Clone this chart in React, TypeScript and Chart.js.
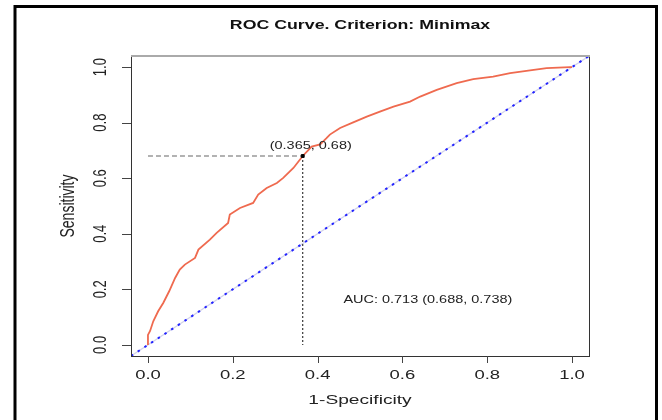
import React, { useEffect, useRef } from "react";
import { Chart, registerables } from "chart.js";

Chart.register(...registerables);

const TITLE = "ROC Curve. Criterion: Minimax";
const X_TITLE = "1-Specificity";
const Y_TITLE = "Sensitivity";
const TICKS = [0, 0.2, 0.4, 0.6, 0.8, 1.0];
const TICK_LABELS = ["0.0", "0.2", "0.4", "0.6", "0.8", "1.0"];
const AXIS_MIN = -0.04;
const AXIS_MAX = 1.04;

// ROC curve (1-specificity, sensitivity)
const FPR = [0, 0, 0.005, 0.0125, 0.024, 0.036, 0.05, 0.064, 0.075, 0.087, 0.111, 0.119, 0.146, 0.162, 0.189, 0.193, 0.217, 0.248, 0.26, 0.28, 0.304, 0.319, 0.343, 0.365, 0.386, 0.406, 0.421, 0.429, 0.453, 0.484, 0.516, 0.547, 0.579, 0.618, 0.642, 0.681, 0.728, 0.767, 0.814, 0.854, 0.901, 0.94, 0.995, 1.0];
const TPR = [0, 0.036, 0.05, 0.085, 0.121, 0.151, 0.193, 0.241, 0.271, 0.289, 0.313, 0.343, 0.379, 0.403, 0.439, 0.469, 0.493, 0.511, 0.541, 0.565, 0.583, 0.601, 0.637, 0.68, 0.714, 0.722, 0.744, 0.757, 0.781, 0.801, 0.822, 0.84, 0.858, 0.876, 0.894, 0.918, 0.942, 0.957, 0.966, 0.978, 0.988, 0.996, 1.0, 1.0];

const CUT_X = 0.365;
const CUT_Y = 0.68;
const CUT_LABEL = "(0.365, 0.68)";
const AUC_LABEL = "AUC: 0.713 (0.688, 0.738)";
const AUC_POS = [0.66, 0.16];

const FONT = '"Liberation Sans", Arial, Helvetica, sans-serif';
const SX = 1.42;

function txt(ctx: CanvasRenderingContext2D, s: string, x: number, y: number, font: string, sx: number, rot: boolean, color: string) {
  ctx.save();
  ctx.translate(x, y);
  ctx.scale(sx, 1);
  if (rot) ctx.rotate(-Math.PI / 2);
  ctx.font = font;
  ctx.fillStyle = color;
  ctx.textAlign = "center";
  ctx.textBaseline = "middle";
  ctx.fillText(s, 0, 0);
  ctx.restore();
}

const decorPlugin = {
  id: "decor",
  beforeDraw(chart: any) {
    const ctx = chart.ctx;
    ctx.save();
    ctx.fillStyle = "#fff";
    ctx.fillRect(0, 0, chart.width, chart.height);
    ctx.restore();
  },
  afterDraw(chart: any) {
    const ctx: CanvasRenderingContext2D = chart.ctx;
    const xs = chart.scales.x;
    const ys = chart.scales.y;
    const a = chart.chartArea;
    ctx.save();
    // outer frame
    ctx.strokeStyle = "#000";
    ctx.lineWidth = 3;
    ctx.strokeRect(15, 6.5, 641.5, 430);
    // plot box
    ctx.lineWidth = 1;
    ctx.strokeStyle = "#333";
    ctx.strokeRect(a.left + 0.5, a.top + 0.5, a.right - a.left, a.bottom - a.top);
    ctx.strokeStyle = "#aaa";
    ctx.lineWidth = 2;
    ctx.beginPath();
    ctx.moveTo(a.left, a.top);
    ctx.lineTo(a.right + 1, a.top);
    ctx.stroke();
    // ticks
    ctx.strokeStyle = "#444";
    ctx.lineWidth = 1;
    TICKS.forEach((t, i) => {
      const px = Math.round(xs.getPixelForValue(t)) + 0.5;
      ctx.beginPath();
      ctx.moveTo(px, a.bottom);
      ctx.lineTo(px, a.bottom + 7);
      ctx.stroke();
      const py = Math.round(ys.getPixelForValue(t)) + 0.5;
      ctx.beginPath();
      ctx.moveTo(a.left, py);
      ctx.lineTo(a.left - 9, py);
      ctx.stroke();
      txt(ctx, TICK_LABELS[i], xs.getPixelForValue(t), a.bottom + 19, `13px ${FONT}`, SX, false, "#222");
      txt(ctx, TICK_LABELS[i], a.left - 30, ys.getPixelForValue(t), `13px ${FONT}`, SX, true, "#222");
    });
    // titles
    txt(ctx, TITLE, (a.left + a.right) / 2, 26, `bold 12.5px ${FONT}`, SX, false, "#111");
    txt(ctx, X_TITLE, (a.left + a.right) / 2, 400, `13.5px ${FONT}`, SX, false, "#222");
    txt(ctx, Y_TITLE, 69, (a.top + a.bottom) / 2, `14px ${FONT}`, SX, true, "#222");
    // annotations
    txt(ctx, CUT_LABEL, xs.getPixelForValue(CUT_X) + 8, ys.getPixelForValue(CUT_Y) - 10, `10.2px ${FONT}`, SX, false, "#222");
    txt(ctx, AUC_LABEL, xs.getPixelForValue(AUC_POS[0]), ys.getPixelForValue(AUC_POS[1]), `10.2px ${FONT}`, SX, false, "#222");
    ctx.restore();
  },
};

export default function App() {
  const ref = useRef<HTMLCanvasElement>(null);
  useEffect(() => {
    if (!ref.current) return;
    const curve = FPR.map((x, i) => ({ x, y: TPR[i] }));
    const diag = [{ x: AXIS_MIN, y: AXIS_MIN }, { x: AXIS_MAX, y: AXIS_MAX }];
    const chart = new Chart(ref.current, {
      type: "scatter",
      data: {
        datasets: [
          { data: [{ x: CUT_X, y: CUT_Y }], order: 0, pointRadius: 2, pointStyle: "rect", pointBackgroundColor: "#000", pointBorderColor: "#000", showLine: false },
          { data: curve, order: 1, showLine: true, borderColor: "#ef6a4f", borderWidth: 1.8, pointRadius: 0, tension: 0 },
          { data: [{ x: CUT_X, y: CUT_Y }, { x: CUT_X, y: 0 }], order: 2, showLine: true, borderColor: "#111", borderWidth: 1, borderDash: [2, 2], pointRadius: 0 },
          { data: [{ x: 0, y: CUT_Y }, { x: CUT_X, y: CUT_Y }], order: 3, showLine: true, borderColor: "#999", borderWidth: 1.5, borderDash: [5, 3], pointRadius: 0 },
          { data: diag, order: 4, showLine: true, borderColor: "#2323ff", borderWidth: 2, borderDash: [2.5, 5.5], pointRadius: 0 },
          { data: diag, order: 5, showLine: true, borderColor: "rgba(190,190,225,0.7)", borderWidth: 1.2, pointRadius: 0 },
        ],
      },
      options: {
        animation: false,
        responsive: false,
        devicePixelRatio: 1,
        layout: { padding: { left: 131, right: 73, top: 56, bottom: 64 } },
        plugins: { legend: { display: false }, tooltip: { enabled: false }, title: { display: false } },
        scales: {
          x: { type: "linear", min: AXIS_MIN, max: AXIS_MAX, display: false },
          y: { type: "linear", min: AXIS_MIN, max: AXIS_MAX, display: false },
        },
      },
      plugins: [decorPlugin],
    });
    return () => chart.destroy();
  }, []);
  return (
    <div style={{ position: "fixed", left: 0, top: 0, width: 662, height: 420, background: "#fff" }}>
      <canvas ref={ref} width={662} height={420} style={{ display: "block" }} />
    </div>
  );
}
